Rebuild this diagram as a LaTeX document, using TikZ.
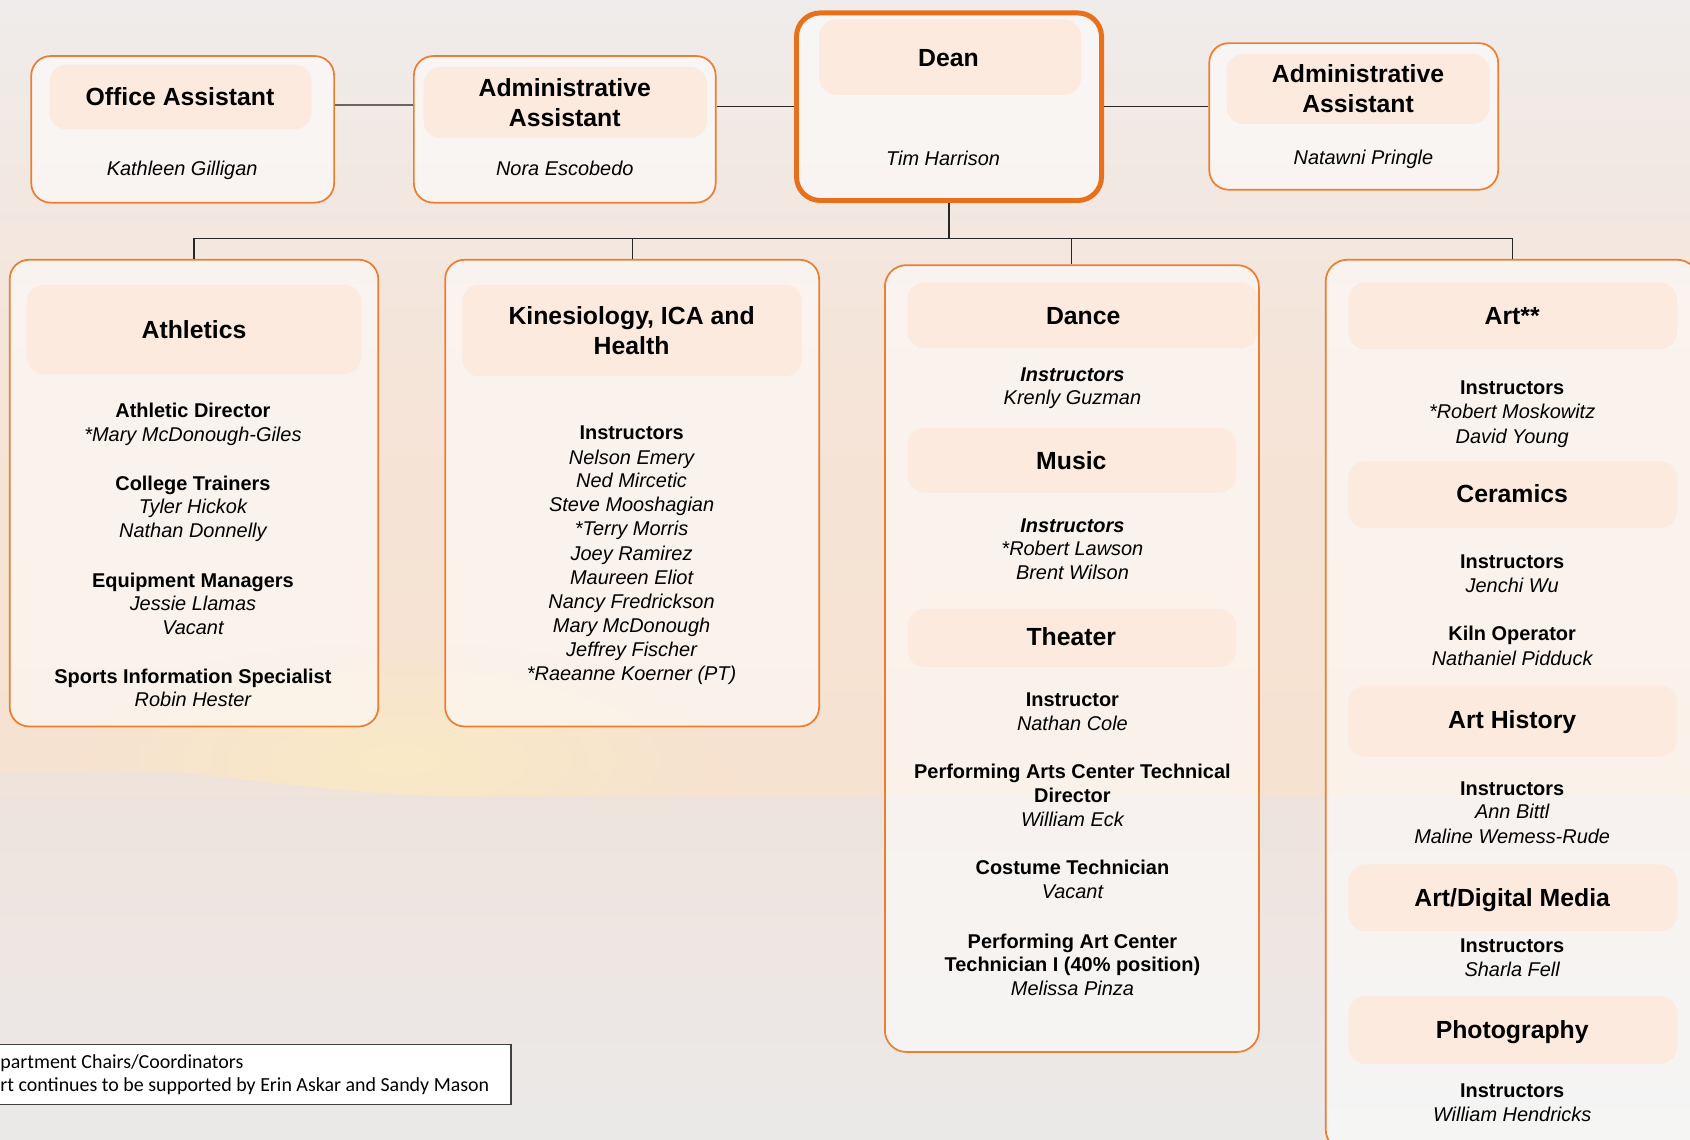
\documentclass[tikz,border=0pt]{standalone}
\usepackage{fontspec}
\setmainfont{Liberation Sans}
\newfontfamily\calibfont{Carlito}
\usetikzlibrary{fit,fadings}
\tikzfading[name=myglowfade, inner color=transparent!0, outer color=transparent!100]
\definecolor{orng}{HTML}{ED7D31}
\definecolor{deanor}{HTML}{E8701A}
\definecolor{peach}{HTML}{FCEADE}
\definecolor{skytop}{HTML}{EFECEB}
\definecolor{skymid}{HTML}{F5E4D8}
\definecolor{skylow}{HTML}{F6E2D0}
\definecolor{seatop}{HTML}{EEE4DE}
\definecolor{seabot}{HTML}{EBE9E8}
\definecolor{glowc}{HTML}{FAEAC6}
\definecolor{mountc}{HTML}{EFE2DA}
\begin{document}
\begin{tikzpicture}[x=0.5pt,y=-0.5pt,
  obox/.style={draw=orng, line width=0.8pt, rounded corners=9pt, fill=white, fill opacity=0.55, inner sep=0pt},
  deanbox/.style={obox, draw=deanor, line width=2.3pt, rounded corners=11pt},
  hbox/.style={fill=peach, rounded corners=8pt, inner sep=0pt},
  conn/.style={draw=black!85, line width=0.55pt},
  hdtxt/.style={inner sep=0pt, yshift=-0.5pt, font=\fontsize{11.5}{14}\selectfont\bfseries, text height=8.3pt, text depth=0pt},
  nmtxt/.style={inner sep=0pt, yshift=-0.5pt, font=\fontsize{9.25}{11}\selectfont\itshape, text height=6.7pt, text depth=0pt},
  tltxt/.style={inner sep=0pt, yshift=-0.5pt, font=\fontsize{9.25}{11}\selectfont\bfseries, text height=6.7pt, text depth=0pt},
  bitxt/.style={inner sep=0pt, yshift=-0.5pt, font=\fontsize{9.25}{11}\selectfont\bfseries\itshape, text height=6.7pt, text depth=0pt},
  ftxt/.style={inner sep=0pt, anchor=west, font=\fontsize{9.25}{11}\selectfont\calibfont, text height=6pt, text depth=0pt}
]
\useasboundingbox (0,0) rectangle (1568,1057);
% background
\fill[seabot] (0,0) rectangle (1568,1057);
\shade[top color=skytop, bottom color=skymid] (0,0) rectangle (1568,350);
\shade[top color=skymid, bottom color=skylow] (0,350) rectangle (1568,740);
\fill[glowc, path fading=myglowfade] (370,705) ellipse (320 and 110);
\shade[top color=mountc, bottom color=seatop] (0,717) .. controls (80,714) and (160,714) .. (195,720) .. controls (280,730) and (350,737) .. (420,739) -- (1568,739) -- (1568,760) -- (0,760) -- cycle;
\shade[top color=seatop, bottom color=seabot] (0,759) rectangle (1568,1057);

% coordinates for connector levels
\coordinate (ya) at (0,97);
\coordinate (yb) at (0,99);
\coordinate (busy) at (0,221);

% boxes
\node[obox, fit={(29,52) (310,188)}] (office) {};
\node[obox, fit={(384,52) (664,188)}] (adm1) {};
\node[deanbox, fit={(739,12) (1022,186)}] (dean) {};
\node[obox, fit={(1122,40) (1390,176)}] (adm2) {};
\node[obox, fit={(9,241) (351,674)}] (ath) {};
\node[obox, fit={(413,241) (760,674)}] (kin) {};
\node[obox, rounded corners=10pt, fit={(821,246) (1168,976)}] (dance) {};
\node[obox, rounded corners=10pt, fit={(1230,241) (1576,1068)}] (art) {};

% connectors
\draw[conn, draw=black!60, line width=0.9pt] (office.east |- ya) -- (adm1.west |- ya);
\draw[conn] (adm1.east |- yb) -- (dean.west |- yb);
\draw[conn] (dean.east |- yb) -- (adm2.west |- yb);
\draw[conn] (dean.south) -- (dean.south |- busy);
\draw[conn] (ath.north) -- (ath.north |- busy) -- (art.north |- busy) -- (art.north);
\draw[conn] (kin.north) -- (kin.north |- busy);
\draw[conn] (dance.north) -- (dance.north |- busy);

% heading fills
\node[hbox, fit={(46,60) (289,120)}] (hoffice) {};
\node[hbox, fit={(393,62) (656,128)}] (hadm1) {};
\node[hbox, fit={(760,18) (1003,88)}] (hdean) {};
\node[hbox, fit={(1138,50) (1382,115)}] (hadm2) {};
\node[hbox, fit={(25,264) (335,347)}] (hath) {};
\node[hbox, fit={(429,264) (744,349)}] (hkin) {};
\node[hbox, fit={(842,262) (1167,323)}] (hdance) {};
\node[hbox, fit={(842,397) (1147,457)}] (hmusic) {};
\node[hbox, fit={(842,565) (1147,619)}] (htheat) {};
\node[hbox, fit={(1251,262) (1556,324)}] (hart) {};
\node[hbox, fit={(1251,428) (1556,490)}] (hcer) {};
\node[hbox, fit={(1251,636) (1556,702)}] (harth) {};
\node[hbox, fit={(1251,802) (1556,864)}] (hadm) {};
\node[hbox, fit={(1251,924) (1556,987)}] (hphoto) {};

% top row text
\node[hdtxt] (t1) at (167,89) {Office Assistant};
\node[nmtxt] (t2) at (169,155) {Kathleen Gilligan};
\node[hdtxt] (t3) at (524,80) {Administrative};
\node[hdtxt] (t4) at (524,108) {Assistant};
\node[nmtxt] (t5) at (524,155) {Nora Escobedo};
\node[hdtxt] (t6) at (880,52) {Dean};
\node[nmtxt] (t7) at (875,146) {Tim Harrison};
\node[hdtxt] (t8) at (1260,67) {Administrative};
\node[hdtxt] (t9) at (1260,95) {Assistant};
\node[nmtxt] (t10) at (1265,145) {Natawni Pringle};

% Athletics
\node[hdtxt] (a0) at (180,305) {Athletics};
\node[tltxt] (a1) at (179,380) {Athletic Director};
\node[nmtxt] (a2) at (179,402) {*Mary McDonough-Giles};
\node[tltxt] (a3) at (179,447) {College Trainers};
\node[nmtxt] (a4) at (179,469) {Tyler Hickok};
\node[nmtxt] (a5) at (179,491) {Nathan Donnelly};
\node[tltxt] (a6) at (179,537) {Equipment Managers};
\node[nmtxt] (a7) at (179,559) {Jessie Llamas};
\node[nmtxt] (a8) at (179,581) {Vacant};
\node[tltxt] (a9) at (179,626) {Sports Information Specialist};
\node[nmtxt] (a10) at (179,648) {Robin Hester};

% Kinesiology
\node[hdtxt] (k0) at (586,292) {Kinesiology, ICA and};
\node[hdtxt] (k00) at (586,320) {Health};
\node[tltxt] (k1) at (586,400) {Instructors};
\node[nmtxt] (k2) at (586,423) {Nelson Emery};
\node[nmtxt] (k3) at (586,445) {Ned Mircetic};
\node[nmtxt] (k4) at (586,467) {Steve Mooshagian};
\node[nmtxt] (k5) at (586,489) {*Terry Morris};
\node[nmtxt] (k6) at (586,512) {Joey Ramirez};
\node[nmtxt] (k7) at (586,535) {Maureen Eliot};
\node[nmtxt] (k8) at (586,557) {Nancy Fredrickson};
\node[nmtxt] (k9) at (586,579) {Mary McDonough};
\node[nmtxt] (k10) at (586,601) {Jeffrey Fischer};
\node[nmtxt] (k11) at (586,624) {*Raeanne Koerner (PT)};

% Dance / Music / Theater
\node[hdtxt] (d0) at (1005,292) {Dance};
\node[bitxt] (d1) at (995,346) {Instructors};
\node[nmtxt] (d2) at (995,368) {Krenly Guzman};
\node[hdtxt] (m0) at (994,426) {Music};
\node[bitxt] (m1) at (995,486) {Instructors};
\node[nmtxt] (m2) at (995,508) {*Robert Lawson};
\node[nmtxt] (m3) at (995,530) {Brent Wilson};
\node[hdtxt] (th0) at (994,590) {Theater};
\node[tltxt] (th1) at (995,648) {Instructor};
\node[nmtxt] (th2) at (995,670) {Nathan Cole};
\node[tltxt] (th3) at (995,715) {Performing Arts Center Technical};
\node[tltxt] (th4) at (995,737) {Director};
\node[nmtxt] (th5) at (995,759) {William Eck};
\node[tltxt] (th6) at (995,804) {Costume Technician};
\node[nmtxt] (th7) at (995,826) {Vacant};
\node[tltxt] (th8) at (995,872) {Performing Art Center};
\node[tltxt] (th9) at (995,894) {Technician I (40\% position)};
\node[nmtxt] (th10) at (995,916) {Melissa Pinza};

% Art
\node[hdtxt] (r0) at (1403,292) {Art**};
\node[tltxt] (r1) at (1403,358) {Instructors};
\node[nmtxt] (r2) at (1403,381) {*Robert Moskowitz};
\node[nmtxt] (r3) at (1403,404) {David Young};
\node[hdtxt] (c0) at (1403,457) {Ceramics};
\node[tltxt] (c1) at (1403,520) {Instructors};
\node[nmtxt] (c2) at (1403,542) {Jenchi Wu};
\node[tltxt] (c3) at (1403,587) {Kiln Operator};
\node[nmtxt] (c4) at (1403,610) {Nathaniel Pidduck};
\node[hdtxt] (h0) at (1403,667) {Art History};
\node[tltxt] (h1) at (1403,730) {Instructors};
\node[nmtxt] (h2) at (1403,752) {Ann Bittl};
\node[nmtxt] (h3) at (1403,775) {Maline Wemess-Rude};
\node[hdtxt] (g0) at (1403,832) {Art/Digital Media};
\node[tltxt] (g1) at (1403,876) {Instructors};
\node[nmtxt] (g2) at (1403,898) {Sharla Fell};
\node[hdtxt] (p0) at (1403,954) {Photography};
\node[tltxt] (p1) at (1403,1011) {Instructors};
\node[nmtxt] (p2) at (1403,1033) {William Hendricks};

% footnote
\node[draw=black!75, fill=white, line width=0.6pt, inner sep=0pt, fit={(-5,969) (474,1025)}] (note) {};
\node[ftxt] (n1) at (0,985) {partment Chairs/Coordinators};
\node[ftxt] (n2) at (0,1007) {rt continues to be supported by Erin Askar and Sandy Mason};
\end{tikzpicture}
\end{document}
